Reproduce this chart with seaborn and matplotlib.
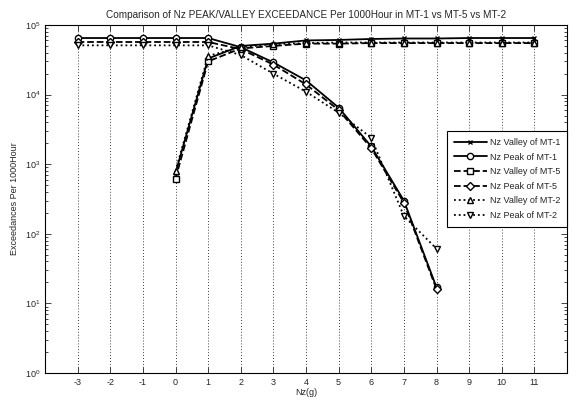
import matplotlib
matplotlib.use("Agg")
import matplotlib.pyplot as plt
import seaborn as sns
import numpy as np
import pandas as pd
from matplotlib.ticker import LogLocator, FixedLocator

# ---- data ----
nz_peak = [-3, -2, -1, 0, 1, 2, 3, 4, 5, 6, 7, 8]
nz_valley = [0, 1, 2, 3, 4, 5, 6, 7, 8, 9, 10, 11]

valley_mt1 = [750, 33000, 50000, 54000, 60000, 61000, 63000, 64000, 64000, 65000, 65000, 65000]
peak_mt1 = [65000, 65000, 65000, 65000, 65000, 48000, 29000, 16000, 6500, 1800, 300, 17]
valley_mt5 = [620, 30000, 46000, 50000, 54000, 54000, 55000, 55000, 55000, 55000, 55000, 55000]
peak_mt5 = [57000, 57000, 57000, 57000, 57000, 45000, 27000, 14000, 6000, 1700, 280, 16]
valley_mt2 = [800, 36000, 48000, 53000, 55000, 56000, 56000, 56000, 56000, 56000, 56000, 56000]
peak_mt2 = [51000, 51000, 51000, 51000, 51000, 37000, 20000, 11000, 5500, 2400, 180, 61]

labels = ["Nz Valley of MT-1", "Nz Peak of MT-1", "Nz Valley of MT-5",
          "Nz Peak of MT-5", "Nz Valley of MT-2", "Nz Peak of MT-2"]
xticks = list(range(-3, 12))

series = [
    (nz_valley, valley_mt1, "-", "x", 3.5),
    (nz_peak, peak_mt1, "-", "o", 4.5),
    (nz_valley, valley_mt5, "--", "s", 4.5),
    (nz_peak, peak_mt5, "--", "D", 4),
    (nz_valley, valley_mt2, ":", "^", 5),
    (nz_peak, peak_mt2, ":", "v", 5),
]

sns.set_style("ticks")
plt.rcParams['font.family'] = ['Liberation Sans', 'DejaVu Sans']

fig = plt.figure(figsize=(5.77, 4.03), dpi=100)
ax = fig.add_axes([45/577, 1 - 373/403, (567-45)/577, (373-25)/403])

for (xs, ys, ls, mk, ms), lab in zip(series, labels):
    df = pd.DataFrame({"x": xs, "y": ys})
    sns.lineplot(data=df, x="x", y="y", ax=ax, color="black", linestyle=ls,
                 marker=mk, markersize=ms, markerfacecolor="white",
                 markeredgecolor="black", markeredgewidth=1.0, linewidth=1.3,
                 label=lab, estimator=None, sort=False)

ax.set_yscale("log")
ax.set_ylim(1, 1e5)
ax.set_xlim(-4, 12)
ax.xaxis.set_major_locator(FixedLocator(xticks))
ax.set_xticklabels([str(t) for t in xticks], fontsize=6.5)
ax.yaxis.set_major_locator(LogLocator(base=10, numticks=10))
ax.yaxis.set_minor_locator(LogLocator(base=10, subs=np.arange(2, 10), numticks=20))
ax.tick_params(axis="both", which="both", direction="in", top=True, right=True,
               labelsize=6.5, width=0.6)
ax.tick_params(axis="both", which="major", length=4)
ax.tick_params(axis="both", which="minor", length=2)
ax.xaxis.grid(True, linestyle=(0, (1, 2.5)), color="black", linewidth=0.6)
ax.yaxis.grid(False)
for sp in ax.spines.values():
    sp.set_linewidth(0.8)
    sp.set_color("black")

ax.set_xlabel("Nz(g)", fontsize=6.5, labelpad=1)
ax.set_ylabel("Exceedances Per 1000Hour", fontsize=6.5, labelpad=4)
ax.set_title("Comparison of Nz PEAK/VALLEY EXCEEDANCE Per 1000Hour in MT-1 vs MT-5 vs MT-2",
             fontsize=7.2, pad=5)

leg = ax.legend(loc="upper right", bbox_to_anchor=(1.0, 0.695), borderaxespad=0,
                fontsize=6.5, frameon=True, fancybox=False, edgecolor="black",
                framealpha=1, handlelength=3.6, borderpad=0.75, labelspacing=0.62,
                handletextpad=0.35)
leg.get_frame().set_linewidth(0.8)

fig.savefig("out.png", dpi=100)
